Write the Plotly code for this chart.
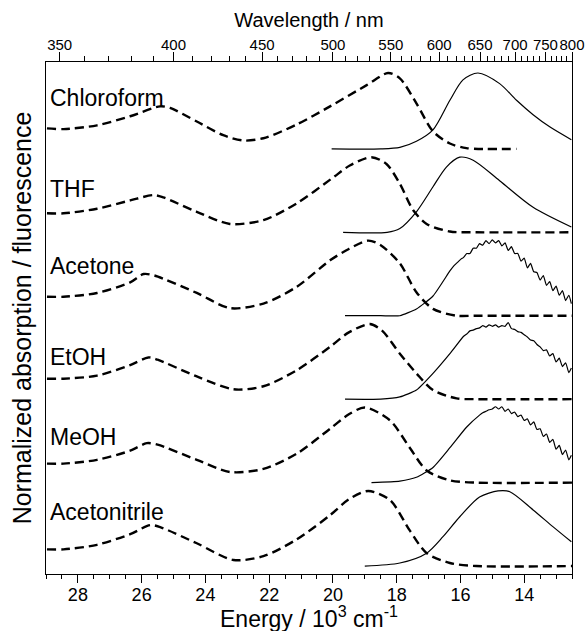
import plotly.graph_objects as go

# ---------------- data (energy in 10^3 cm^-1, normalized intensity) ----------------
solvents = ["Chloroform", "THF", "Acetone", "EtOH", "MeOH", "Acetonitrile"]

abs_chloroform_E = [28.97, 28.45, 27.40, 26.36, 25.42, 25.11, 24.27, 23.44, 22.81, 22.18, 21.14, 20.09, 18.94, 18.27, 17.90, 17.38, 16.86, 16.33, 15.81, 14.24]
abs_chloroform_I = [0.27, 0.26, 0.31, 0.43, 0.56, 0.54, 0.36, 0.18, 0.11, 0.14, 0.32, 0.56, 0.84, 1.00, 0.93, 0.60, 0.23, 0.07, 0.01, 0.00]

abs_thf_E = [28.97, 28.45, 27.40, 26.36, 25.63, 25.32, 24.27, 23.23, 22.18, 21.14, 20.00, 19.47, 18.79, 18.32, 17.90, 17.48, 17.06, 16.33, 15.50, 12.50]
abs_thf_I = [0.25, 0.25, 0.31, 0.42, 0.49, 0.46, 0.27, 0.11, 0.16, 0.38, 0.72, 0.88, 0.99, 0.90, 0.64, 0.29, 0.11, 0.01, 0.00, 0.00]

abs_acetone_E = [28.97, 28.45, 27.40, 26.36, 25.94, 25.60, 24.27, 23.23, 22.18, 21.14, 20.09, 19.50, 18.89, 18.50, 17.90, 17.38, 16.86, 16.12, 15.50, 12.50]
abs_acetone_I = [0.25, 0.25, 0.30, 0.44, 0.55, 0.53, 0.30, 0.10, 0.16, 0.38, 0.73, 0.88, 0.99, 0.93, 0.69, 0.31, 0.09, 0.00, 0.00, 0.00]

abs_etoh_E = [28.97, 28.45, 27.40, 26.36, 25.79, 25.50, 24.27, 23.12, 22.18, 21.14, 20.09, 19.50, 18.84, 18.45, 17.90, 17.38, 16.86, 16.12, 15.50, 12.50]
abs_etoh_I = [0.27, 0.27, 0.31, 0.45, 0.55, 0.52, 0.30, 0.13, 0.17, 0.38, 0.69, 0.88, 0.99, 0.90, 0.60, 0.34, 0.12, 0.01, 0.00, 0.00]

abs_meoh_E = [28.97, 28.45, 27.40, 26.36, 25.84, 25.50, 24.27, 23.23, 22.18, 21.14, 20.09, 19.50, 19.00, 18.21, 17.59, 17.06, 16.33, 15.50, 12.50]
abs_meoh_I = [0.25, 0.25, 0.30, 0.42, 0.52, 0.50, 0.30, 0.14, 0.18, 0.38, 0.71, 0.90, 0.99, 0.82, 0.46, 0.16, 0.03, 0.00, 0.00]

abs_acn_E = [28.97, 28.45, 27.40, 26.36, 25.73, 25.40, 24.27, 23.12, 22.18, 21.14, 20.09, 19.50, 18.89, 18.21, 17.59, 17.06, 16.33, 15.50, 12.50]
abs_acn_I = [0.22, 0.22, 0.28, 0.42, 0.54, 0.51, 0.30, 0.08, 0.13, 0.35, 0.67, 0.88, 0.99, 0.87, 0.47, 0.17, 0.04, 0.00, 0.00]

fl_chloroform_E = [20.04, 18.50, 17.90, 17.38, 16.86, 16.33, 15.92, 15.45, 14.77, 14.24, 13.72, 13.20, 12.52]
fl_chloroform_I = [0.00, 0.00, 0.02, 0.10, 0.25, 0.64, 0.91, 1.00, 0.86, 0.64, 0.45, 0.29, 0.12]

fl_thf_E = [19.68, 18.30, 17.90, 17.38, 16.86, 16.44, 16.02, 15.60, 14.77, 13.72, 12.52]
fl_thf_I = [0.00, 0.00, 0.05, 0.27, 0.60, 0.86, 0.99, 0.95, 0.68, 0.33, 0.07]

fl_acetone_E = [19.62, 18.50, 17.90, 17.38, 16.86, 16.33,
                16.2, 16.1, 16.0, 15.9, 15.8, 15.7, 15.6, 15.5, 15.4, 15.3, 15.2, 15.1, 15.0, 14.9, 14.8, 14.7,
                14.6, 14.5, 14.4, 14.3, 14.2, 14.1, 14.0, 13.9, 13.8, 13.7, 13.6, 13.5, 13.4, 13.3, 13.2, 13.1,
                13.0, 12.9, 12.8, 12.7, 12.6, 12.52]
fl_acetone_I = [0.00, 0.00, 0.00, 0.09, 0.26, 0.59,
                0.66, 0.70, 0.74, 0.77, 0.82, 0.82, 0.89, 0.89, 0.95, 0.93, 0.99, 0.95, 1.00, 0.96, 0.99, 0.92,
                0.96, 0.86, 0.91, 0.82, 0.82, 0.72, 0.76, 0.63, 0.69, 0.58, 0.57, 0.47, 0.53, 0.40, 0.45, 0.33,
                0.39, 0.27, 0.33, 0.20, 0.27, 0.16]

fl_etoh_E = [19.62, 18.50, 17.90, 17.38, 16.86, 16.33,
             15.9, 15.8, 15.7, 15.6, 15.5, 15.4, 15.3, 15.2, 15.1, 15.0, 14.9, 14.8, 14.7, 14.6, 14.5, 14.4,
             14.3, 14.2, 14.1, 14.0, 13.9, 13.8, 13.7, 13.6, 13.5, 13.4, 13.3, 13.2, 13.1, 13.0, 12.9, 12.8,
             12.7, 12.6, 12.52]
fl_etoh_I = [0.00, 0.00, 0.03, 0.12, 0.34, 0.60,
             0.83, 0.86, 0.90, 0.91, 0.93, 0.94, 0.97, 0.95, 0.98, 0.96, 0.98, 0.95, 0.97, 0.96, 1.01, 0.93,
             0.92, 0.89, 0.88, 0.85, 0.82, 0.78, 0.77, 0.72, 0.69, 0.64, 0.65, 0.57, 0.60, 0.49, 0.54, 0.43,
             0.48, 0.35, 0.41]

fl_meoh_E = [18.79, 17.90, 17.38, 16.86, 16.33, 15.81,
             15.4, 15.3, 15.2, 15.1, 15.0, 14.9, 14.8, 14.7, 14.6, 14.5, 14.4, 14.3, 14.2, 14.1, 14.0, 13.9,
             13.8, 13.7, 13.6, 13.5, 13.4, 13.3, 13.2, 13.1, 13.0, 12.9, 12.8, 12.7, 12.6, 12.52]
fl_meoh_I = [0.00, 0.02, 0.07, 0.20, 0.46, 0.73,
             0.89, 0.92, 0.94, 0.96, 0.97, 1.00, 0.97, 1.00, 0.94, 0.97, 0.91, 0.93, 0.87, 0.89, 0.82, 0.84,
             0.76, 0.80, 0.70, 0.71, 0.61, 0.64, 0.53, 0.57, 0.44, 0.49, 0.37, 0.43, 0.30, 0.36]

fl_acn_E = [19.00, 17.90, 17.06, 16.54, 16.02, 15.40, 14.82, 14.45, 13.72, 13.10, 12.52]
fl_acn_I = [0.00, 0.04, 0.17, 0.39, 0.65, 0.91, 0.99, 0.98, 0.74, 0.52, 0.32]

energy_ticks = [28, 26, 24, 22, 20, 18, 16, 14]
wavelength_ticks = [350, 400, 450, 500, 550, 600, 650, 700, 750, 800]

# ---------------- layout / styling ----------------
FONT = "Liberation Sans, Arial, sans-serif"
STEP = 1.1  # vertical stacking step between solvents
label_dy = [0.675, 0.575, 0.66, 0.56, 0.60, 0.71]
fl_smooth = [0.8, 0.8, 0.5, 0.5, 0.5, 0.8]

abs_sets = [(abs_chloroform_E, abs_chloroform_I), (abs_thf_E, abs_thf_I), (abs_acetone_E, abs_acetone_I),
            (abs_etoh_E, abs_etoh_I), (abs_meoh_E, abs_meoh_I), (abs_acn_E, abs_acn_I)]
fl_sets = [(fl_chloroform_E, fl_chloroform_I), (fl_thf_E, fl_thf_I), (fl_acetone_E, fl_acetone_I),
           (fl_etoh_E, fl_etoh_I), (fl_meoh_E, fl_meoh_I), (fl_acn_E, fl_acn_I)]

fig = go.Figure()
n = len(solvents)
annotations = []
for i, name in enumerate(solvents):
    off = (n - 1 - i) * STEP
    ae, ai = abs_sets[i]
    fe, fi = fl_sets[i]
    fig.add_trace(go.Scatter(x=ae, y=[v + off for v in ai], mode="lines",
                             line=dict(color="black", width=2.4, dash="9px,5px", shape="spline", smoothing=0.8),
                             showlegend=False, hoverinfo="skip"))
    fig.add_trace(go.Scatter(x=fe, y=[v + off for v in fi], mode="lines",
                             line=dict(color="black", width=1.2, shape="spline", smoothing=fl_smooth[i]),
                             showlegend=False, hoverinfo="skip"))
    annotations.append(dict(x=28.93, y=off + label_dy[i], xref="x", yref="y", text=name, showarrow=False,
                            xanchor="left", yanchor="middle", font=dict(family=FONT, size=23, color="black")))

# bottom axis title (placed as annotation so it can sit low in the margin like the original)
annotations.append(dict(x=0.5, y=-0.118, xref="paper", yref="paper", yanchor="bottom", xanchor="center",
                        text="Energy / 10<sup>3</sup> cm<sup>-1</sup>", showarrow=False,
                        font=dict(family=FONT, size=23, color="black")))

# invisible trace on top axis so it is drawn
fig.add_trace(go.Scatter(x=[29, 12.5], y=[0, 0], xaxis="x2", mode="lines", line=dict(width=0),
                         showlegend=False, hoverinfo="skip"))

minor_e = [x / 2 for x in range(25, 59) if x % 4 != 0]
minor_wl = [w for w in range(350, 801, 10) if w % 50 != 0]

fig.update_layout(
    width=587, height=631,
    margin=dict(l=46, r=15, t=62, b=57),
    paper_bgcolor="white", plot_bgcolor="white",
    font=dict(family=FONT, color="black"),
    annotations=annotations,
    xaxis=dict(range=[29, 12.5], showgrid=False, zeroline=False, showline=True, linecolor="black", linewidth=1.3,
               ticks="outside", ticklen=8, tickwidth=1.2, tickcolor="black",
               tickmode="array", tickvals=energy_ticks, ticktext=[str(t) for t in energy_ticks],
               tickfont=dict(size=18, family=FONT), tickangle=0, ticklabelstandoff=-4,
               minor=dict(tickmode="array", tickvals=minor_e, ticks="outside", ticklen=4, tickwidth=1.2, tickcolor="black"),
               automargin=False),
    xaxis2=dict(range=[29, 12.5], overlaying="x", side="top", showgrid=False, zeroline=False, showline=True,
                linecolor="black", linewidth=1.3, ticks="outside", ticklen=9, tickwidth=1.2, tickcolor="black",
                tickmode="array", tickvals=[1e4 / w for w in wavelength_ticks], ticktext=[str(w) for w in wavelength_ticks],
                tickfont=dict(size=15, family=FONT), tickangle=0, ticklabelstandoff=-4,
                minor=dict(tickmode="array", tickvals=[1e4 / w for w in minor_wl], ticks="outside", ticklen=5,
                           tickwidth=1.2, tickcolor="black"),
                title=dict(text="Wavelength / nm", font=dict(size=20, family=FONT), standoff=2),
                automargin=False),
    yaxis=dict(range=[-0.105, 6.645], showgrid=False, zeroline=False, showline=True, mirror=True,
               linecolor="black", linewidth=1.3, showticklabels=False, ticks="",
               title=dict(text="Normalized absorption / fluorescence", font=dict(size=25, family=FONT), standoff=6),
               automargin=False),
)

fig.write_html("out.html")
